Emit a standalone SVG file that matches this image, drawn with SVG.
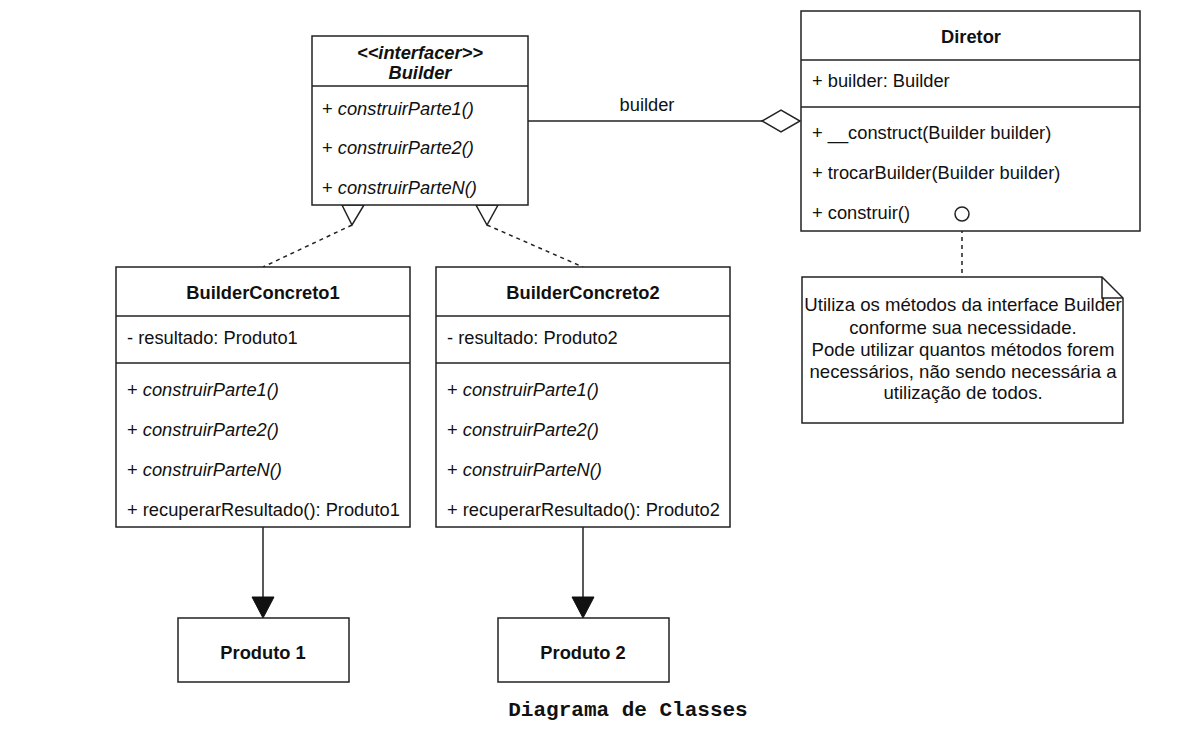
<svg xmlns="http://www.w3.org/2000/svg" width="1193" height="735" viewBox="0 0 1193 735">
<style>
.box{fill:#fff;stroke:#222;stroke-width:1.5}
.ln{fill:none;stroke:#222;stroke-width:1.5}
.dash{fill:none;stroke:#222;stroke-width:1.5;stroke-dasharray:4 4}
text{font-family:"Liberation Sans",Arial,sans-serif;font-size:18.3px;fill:#111}
.b{font-weight:bold}
.i{font-style:italic}
.c{text-anchor:middle}
.nt{font-size:18.6px}
.cap{font-family:"Liberation Mono","Courier New",monospace;font-weight:bold;font-size:21px}
</style>
<rect width="1193" height="735" fill="#fff"/>
<g id="connectors">
  <line class="ln" x1="528" y1="121" x2="762" y2="121"/>
  <polygon class="box" points="762,121 781,110 800,121 781,132"/>
  <text class="c" x="647" y="111">builder</text>
  <line class="dash" x1="352" y1="225" x2="263" y2="267"/>
  <polygon class="box" points="342,205 364,205 352,225"/>
  <line class="dash" x1="487" y1="225" x2="583" y2="267"/>
  <polygon class="box" points="476,205 498,205 487,225"/>
  <line class="ln" x1="263" y1="527" x2="263" y2="597"/>
  <polygon fill="#111" stroke="#111" stroke-width="1" points="252,597 274,597 263,618"/>
  <line class="ln" x1="583" y1="527" x2="583" y2="597"/>
  <polygon fill="#111" stroke="#111" stroke-width="1" points="572,597 594,597 583,618"/>
  <line class="dash" x1="962" y1="221" x2="962" y2="277"/>
</g>
<g id="builder">
  <rect class="box" x="312" y="36" width="216" height="169"/>
  <line class="ln" x1="312" y1="86" x2="528" y2="86"/>
  <text class="c b i" x="420" y="59">&lt;&lt;interfacer&gt;&gt;</text>
  <text class="c b i" x="420" y="79">Builder</text>
  <text x="322" y="115">+ <tspan class="i">construirParte1()</tspan></text>
  <text x="322" y="154">+ <tspan class="i">construirParte2()</tspan></text>
  <text x="322" y="194">+ <tspan class="i">construirParteN()</tspan></text>
</g>
<g id="diretor">
  <rect class="box" x="801" y="11" width="339" height="220"/>
  <line class="ln" x1="801" y1="60" x2="1140" y2="60"/>
  <line class="ln" x1="801" y1="107" x2="1140" y2="107"/>
  <text class="c b" x="971" y="43">Diretor</text>
  <text x="812" y="87">+ builder: Builder</text>
  <text x="812" y="139">+ __construct(Builder builder)</text>
  <text x="812" y="179">+ trocarBuilder(Builder builder)</text>
  <text x="812" y="219">+ construir()</text>
  <circle cx="962" cy="214" r="7" fill="#fff" stroke="#222" stroke-width="1.5"/>
</g>
<g id="note">
  <path class="box" d="M802 277 H1102 L1123 298 V423 H802 Z"/>
  <path class="ln" d="M1102 277 V298 H1123"/>
  <text class="c nt" x="963" y="311">Utiliza os métodos da interface Builder</text>
  <text class="c nt" x="963" y="334">conforme sua necessidade.</text>
  <text class="c nt" x="963" y="356">Pode utilizar quantos métodos forem</text>
  <text class="c nt" x="963" y="378">necessários, não sendo necessária a</text>
  <text class="c nt" x="963" y="399">utilização de todos.</text>
</g>
<g id="builderConcreto1">
  <rect class="box" x="116" y="267" width="294" height="260"/>
  <line class="ln" x1="116" y1="316" x2="410" y2="316"/>
  <line class="ln" x1="116" y1="363" x2="410" y2="363"/>
  <text class="c b" x="263" y="299">BuilderConcreto1</text>
  <text x="127" y="344">- resultado: Produto1</text>
  <text x="127" y="396">+ <tspan class="i">construirParte1()</tspan></text>
  <text x="127" y="436">+ <tspan class="i">construirParte2()</tspan></text>
  <text x="127" y="476">+ <tspan class="i">construirParteN()</tspan></text>
  <text x="127" y="516">+ recuperarResultado(): Produto1</text>
</g>
<g id="builderConcreto2">
  <rect class="box" x="436" y="267" width="294" height="260"/>
  <line class="ln" x1="436" y1="316" x2="730" y2="316"/>
  <line class="ln" x1="436" y1="363" x2="730" y2="363"/>
  <text class="c b" x="583" y="299">BuilderConcreto2</text>
  <text x="447" y="344">- resultado: Produto2</text>
  <text x="447" y="396">+ <tspan class="i">construirParte1()</tspan></text>
  <text x="447" y="436">+ <tspan class="i">construirParte2()</tspan></text>
  <text x="447" y="476">+ <tspan class="i">construirParteN()</tspan></text>
  <text x="447" y="516">+ recuperarResultado(): Produto2</text>
</g>
<g id="produto1">
  <rect class="box" x="178" y="618" width="171" height="64"/>
  <text class="c b" x="263" y="659">Produto 1</text>
</g>
<g id="produto2">
  <rect class="box" x="498" y="618" width="171" height="64"/>
  <text class="c b" x="583" y="659">Produto 2</text>
</g>
<text class="cap c" x="628" y="716">Diagrama de Classes</text>
</svg>
